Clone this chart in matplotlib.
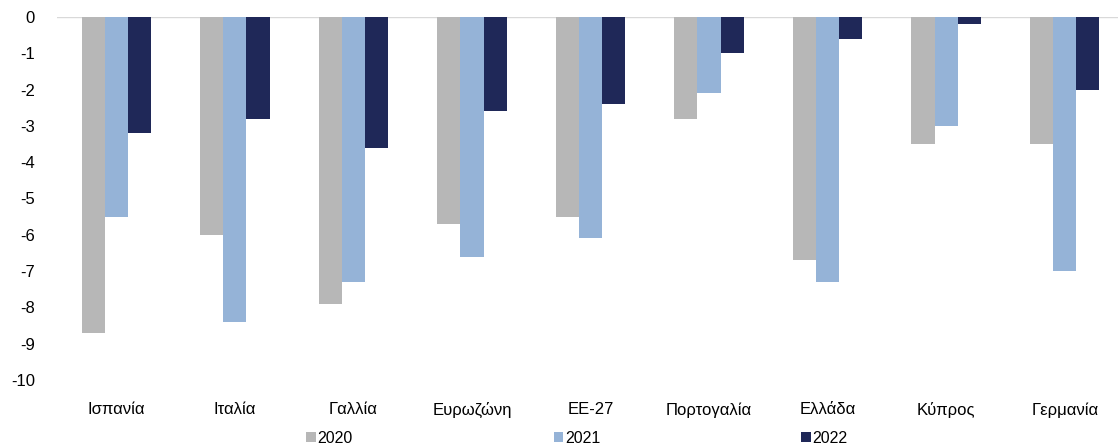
import matplotlib.pyplot as plt
import numpy as np

plt.rcParams['font.family'] = ['Liberation Sans', 'DejaVu Sans']
plt.rcParams['axes.unicode_minus'] = False

countries = ["Ισπανία", "Ιταλία", "Γαλλία", "Ευρωζώνη", "ΕΕ-27",
             "Πορτογαλία", "Ελλάδα", "Κύπρος", "Γερμανία"]
v2020 = [-8.7, -6.0, -7.9, -5.7, -5.5, -2.8, -6.7, -3.5, -3.5]
v2021 = [-5.5, -8.4, -7.3, -6.6, -6.1, -2.1, -7.3, -3.0, -7.0]
v2022 = [-3.2, -2.8, -3.6, -2.6, -2.4, -1.0, -0.6, -0.2, -2.0]
years = ["2020", "2021", "2022"]
colors = ["#b7b7b7", "#95b3d7", "#1f2858"]

fig = plt.figure(figsize=(11.18, 4.47), dpi=100)
ax = fig.add_axes([57 / 1118, 1 - 380 / 447, (1124 - 57) / 1118, (380 - 17) / 447])

x = np.arange(len(countries))
w = 0.195
for i, (vals, c, lab) in enumerate(zip([v2020, v2021, v2022], colors, years)):
    ax.bar(x + (i - 1) * w, vals, width=w, color=c, label=lab)

ax.axhline(0, color="#d9d9d9", lw=1, zorder=0)
ax.set_xlim(-0.5, len(countries) - 0.5)
ax.set_ylim(-10, 0)
ax.set_yticks(range(-10, 1))
ax.set_xticks(x)
ax.set_xticklabels(countries, fontsize=12)
ax.tick_params(axis="y", labelsize=12, length=0, pad=16)
ax.tick_params(axis="x", length=0, pad=16)
for s in ax.spines.values():
    s.set_visible(False)

leg = fig.legend(loc="lower center", bbox_to_anchor=(0.516, -0.03), ncol=3,
                 frameon=False, fontsize=11.5, handlelength=0.6, handleheight=0.6,
                 handletextpad=0.1, columnspacing=12.6)

fig.savefig("out.png", dpi=100)
